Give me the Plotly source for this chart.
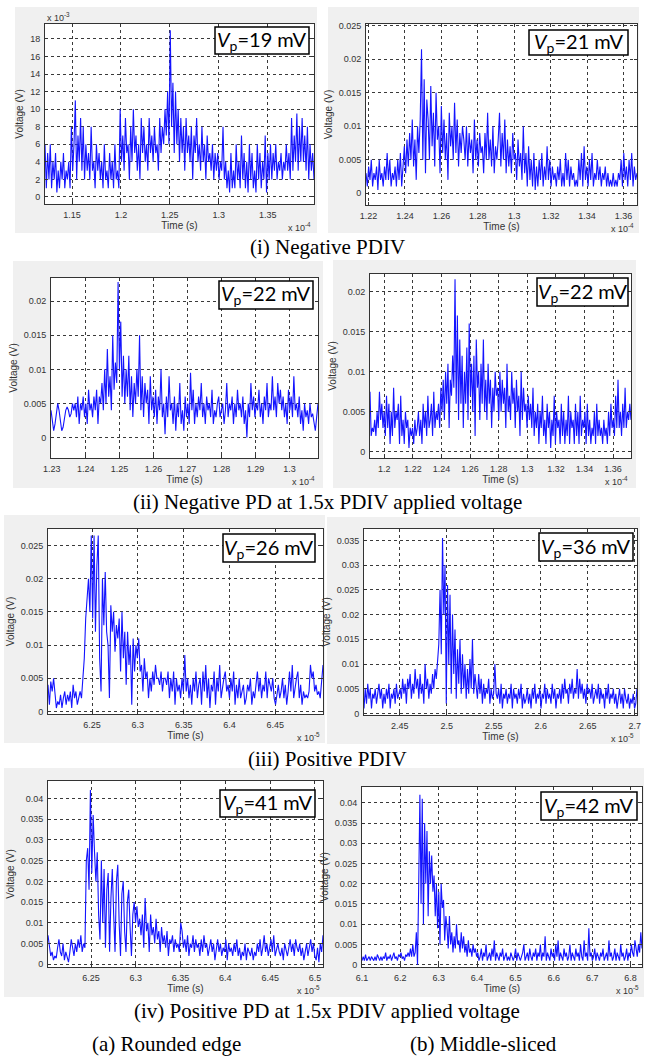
import numpy as np
import plotly.graph_objects as go

W, H = 651, 1056

# ---------------------------------------------------------------------------
# Recorded PD pulses. Voltages in mV, time windows in axis units
# (panels 1-4: s x 10^-4, panels 5-8: s x 10^-5).
# ---------------------------------------------------------------------------
t_win_1 = [1.1224, 1.3973]
v_1 = [6,1,5,2,6,1,4,2,5,0.5,3,1,4,2,5,1,3,2,4,1,
       8,3,6,11,2,7,4,9,3,8,2,
       6,3,5,2,8,3,4,1,6,3,5,2,4,1,6,2,3,1,5,2,4,1,6,2,3,1,
       10,4,7,3,9,5,6,2,8,4,10,5,7,3,6,2,9,5,8,4,6,3,9,5,7,4,8,5,6,3,9,5,8,6,10,7,
       12,6,19,8,13,5,
       12,6,10,4,9,5,8,3,9,5,7,4,8,2,7,5,9,4,6,3,8,4,6,2,7,4,5,3,6,2,5,3,5,2,4,3,
       8,2,4,1,3,0.5,5,1,3,1,6,2,4,1,7,2,5,1,4,0.5,6,2,5,1,3,0.5,6,2,5,1,4,2,7,0.5,5,2,
       6,2,5,3,6,2,4,3,5,2,4,3,6,3,5,2,9,3,7,4,9.5,3,8,4,9,4,7,3,8,2,6,3,5,2]

t_win_2 = [1.2186, 1.3674]
v_2 = [3,1,4,2,5,1,3,2,4,0.5,5,2,3,1,4,2,6,2,5,1,3,2,4,1,5,2,6,1,4,
       7,3,8,4,9,5,11,4,8,2,10,6,11,
       21.5,5,17,3,14,
       11,5,16,7,12,4,15,8,10,3,13,6,11,5,9,2,12,7,10,5,13.5,6,11,4,9,6,10,
       8,5,10,4,9,6,8,3,11,5,8,4,9,6,7,3,9,5,12,5,8,4,10,3,7,5,8,
       12,4,9,5,11,3,8,4,7,3,9,5,6,2,8,4,6,2,10,3,6,1,7,2,5,1,6,
       0.5,4,1,5,2,6,1,4,2,7,2,5,1,4,2,3,1,4,2,5,1,3,1,6,2,5,1,4,2,3,1,2,1,5,2,6,1,7,2,4,
       1,5,2,6,1,3,2,5,2,4,1,3,2,4,1,3,1,2,1,3,1,2,1,3,2,5,1,6,2,4,1,5,2,6,1,4,2,3]

t_win_3 = [1.2298, 1.3084]
v_3 = [4,2,1,2,4,5,4,2,1,1.5,3,4,4.5,4,3,3.5,5,4,
       5,3,6,2,5,4,6,3,5,2,7,4,5,3,6,4,7,2,6,5,
       8,4,10,5,13,6,9,4,15,7,11,8,
       22.8,10,17,6,
       12,5,10,6,12,4,9,3,8,5,10,6,15,4,9,3,8,5,7,2,9,4,6,3,
       7,2,6,4,10,3,5,0.5,6,3,9,4,5,2,6,1,5,3,8,2,4,1,6,3,5,2,
       9.5,4,7,2,5,3,6,4,8,3,5,2,6,4,5,3,7,2,4,3,5,6,3,4,5,2,4,8,3,5,4,6,2,5,3,7,4,5,3,6,
       2,4,0,5,3,8,4,6,3,5,4,7,3,5,2,6,4,8,3,5,4,9,4,6,3,8,5,7,4,6,3,5,2,7,4,6,3,9,4,5,
       3,6,2,4,1,5,3,4,2,5,3,3.5,2,1,3,5]

t_win_4 = [1.19, 1.3725]
v_4 = [7.5,2,3,2.5,4,2,5,3,7.5,4,6,3,
       5,2,7,3,6,1,5,2,8,3,5,4,6,1,7,2,4,1,5,3,4,0.5,3,2,
       3,1,4,2,3,5,2,4,1,6,3,5,2,7,3,4,6,2,7.5,3,5,4,6,3,
       8,5,9,4,10,6,11,3,9,7,12,8,
       21.5,6,17,4,
       14,6,12,3,10,6,13,4,16,7,11,5,12,2,14,8,10,4,11,6,14,5,9,4,
       11,6,9,3,8,5,10,7,8,4,10,5,9,6,8,3,11,5,7,4,10,6,8,3,9,5,7,2,10,4,8,5,6,3,7,4,
       6,3,8,2,5,3,6,1,5,3,7,2,4,1,6,3,5,0.5,4,2,7,1,5,3,
       4,1,6,2,5,1,4,2,7,1,5,3,4,1,6,2,5,1,7,2,4,3,5,1,6,2,4,1,3,2,5,1,6,2,4,2,3,1,4,2,
       3,1,5,2,6,3,4,2,7,3,9,3,5,2,6,3,8,3,5,4,6,4]

t_win_5 = [6.202, 6.502]
v_5 = [4,1,4.5,3,5,2,0.5,1.5,1,2.5,0.5,2,3,1,2.5,1.5,3,0.5,4,2,3,1,2,3,2,
       5,8,14,18,20,15,26.5,
       14,26.5,12,22,26.5,8,3,20,13,21,12,10,2,16,12,15,9,13,11,14,6,15,8,12,4,12,7,10,1,11,6,10,8,
       11,6,7,3,8,5,6,2,5,3,6,4,7,5,5,4,6,3,5,5,4,6,2,5,3,6,1,5,3,4,2,5,3,
       8.5,3,5,2,4,1,5,3,6,2,4,5,1,6,3,7,2,5,0.5,4,3,6,1,5,3,7,2,4,5,6,3,4,2,5,3,6,1,4,2,5,
       2,3,4,1,2,4,3,5,1,3,2,4,6,3,5,2,4,3,6,2,5,4,3,5,2,1,3,4,2,3,5,2,4,1,3,6,3,7,2,4,
       5,6,2,4,1,3,2,2.5,2,3,7,5,6,3,4,2.5,3,2,5,7]

t_win_6 = [2.412, 2.7025]
v_6 = [1,5,2,6,3,5,1,4,3,5,2,4,6,3,5,1,4,2,5,3,6,1,4,3,5,2,6,3,4,
       5,3,7,4,6,2,7,5,8,3,6,4,9,5,7,3,8,4,6,2,10,5,7,3,6,4,8,5,9,7,
       10,14,25,12,35.5,20,30,2,
       26,10,24,4,20,8,17,3,13,6,15,4,12,5,10,3,9,4,11,5,15,4,8,
       6,3,8,4,7,2,6,3,5,4,7,2,5,3,4,
       10,4,3,5,2,6,1,4,3,5,2,4,3,6,1,5,3,4,2,5,3,6,1,4,2,3,5,2,4,1,5,3,6,2,4,3,5,1,4,3,
       6,2,5,3,4,2,6,3,5,1,4,3,5,2,6,3,7,4,5,2,6,4,7,3,5,4,9,3,7,4,6,3,5,2,6,4,5,3,6,2,
       4,5,3,6,2,5,3,4,1,5,3,6,2,4,3,5,2,4,1,3,5,2,4,1,5,3,2,4,1,3,2,4,1,2,5]

t_win_7 = [6.202, 6.509]
v_7 = [7,5,2,3,1,2,1.5,4,6,3,2,5,1,3,2,0.5,3,6,4,2,5,3,6,4,7,3,5,4,
       25,28,18,42,22,36,27,
       20,27,12,6,25,10,23,4,18,22,3,16,23,12,3,20,24,10,2,17,20,8,3,15,18,9,2,12,15,10,
       14,9,11,7,12,4,16,8,10,3,12,7,9,5,11,6,8,3,9,5,7,4,8,2,6,5,7,3,6,4,5,3,10,
       8,4,6,3,7,2,5,4,7,3,6,4,5,2,6,3,7,4,5,2,4,6,3,5,1,4,6,3,5,2,4,3,6,1,5,3,4,2,5,3,
       6,2,4,1,3,2,5,1,4,3,2,4,1,3,2,5,3,6,2,4,7,3,5,2,4,6,3,7,2,4,5,3,2,4,1,5,3,2,4,6,
       3,5,2,6,4,3,5,2,4,1,3,5,2,4,6,3,5,2,1,4,0.5,5,3,7]

t_win_8 = [6.1, 6.83]
v_8 = [1,2,1,2.5,1,1.5,2,1,2,1.5,1,2,1,2.5,1.5,1,2,1,2,1.5,3,1,2,1.5,2.5,1,2,3,1.5,2,
       1,2.5,2,3,1.5,2,1,2.5,2,3,2,4,2,5,2,3,
       8,0,20,
       42,15,41,10,35,20,33,12,28,20,
       27,18,22,12,20,9,18,5,20,14,16,6,12,
       9,4,12,5,8,3,7,4,10,5,6,3,8,4,7,3,5,2,6,3,4,2,5,3,4,2,
       3,1,2,4,1,3,2,5,1,2,3,1,4,2,6,1,3,2,1,3,2,4,1,2,3,1,2,1,3,2,1,2,4,1,3,2,1,2,3,5,
       1,2,3,1,4,2,1,3,2,4,1,3,2,5,1,3,2,7,1,3,2,1,4,2,3,1,5,2,6,1,3,2,1,4,2,3,1,2,5,1,
       3,2,1,4,2,3,1,5,2,1,6,2,3,1,9,2,3,1,2,4,1,3,2,1,3,2,4,1,2,3,1,6,2,3,1,2,4,1,3,2,
       1,5,2,3,1,2,4,1,3,2,5,3,2,6,4,2,5,3,8,4]

# Peak voltages shown in the boxes (mV)
vp = [19, 21, 22, 22, 26, 36, 41, 42]

# Tick values / labels
xt_1 = [1.15, 1.2, 1.25, 1.3, 1.35]
xl_1 = ["1.15", "1.2", "1.25", "1.3", "1.35"]
yt_1 = [0, 2, 4, 6, 8, 10, 12, 14, 16, 18]
yl_1 = ["0", "2", "4", "6", "8", "10", "12", "14", "16", "18"]
xt_2 = [1.22, 1.24, 1.26, 1.28, 1.30, 1.32, 1.34, 1.36]
xl_2 = ["1.22", "1.24", "1.26", "1.28", "1.3", "1.32", "1.34", "1.36"]
xt_3 = [1.23, 1.24, 1.25, 1.26, 1.27, 1.28, 1.29, 1.30]
xl_3 = ["1.23", "1.24", "1.25", "1.26", "1.27", "1.28", "1.29", "1.3"]
xt_4 = [1.20, 1.22, 1.24, 1.26, 1.28, 1.30, 1.32, 1.34, 1.36]
xl_4 = ["1.2", "1.22", "1.24", "1.26", "1.28", "1.3", "1.32", "1.34", "1.36"]
xt_5 = [6.25, 6.30, 6.35, 6.40, 6.45]
xl_5 = ["6.25", "6.3", "6.35", "6.4", "6.45"]
xt_6 = [2.45, 2.50, 2.55, 2.60, 2.65, 2.70]
xl_6 = ["2.45", "2.5", "2.55", "2.6", "2.65", "2.7"]
xt_7 = [6.25, 6.30, 6.35, 6.40, 6.45, 6.50]
xl_7 = ["6.25", "6.3", "6.35", "6.4", "6.45", "6.5"]
xt_8 = [6.1, 6.2, 6.3, 6.4, 6.5, 6.6, 6.7, 6.8]
xl_8 = ["6.1", "6.2", "6.3", "6.4", "6.5", "6.6", "6.7", "6.8"]
yv_ticks = [0, 0.005, 0.01, 0.015, 0.02, 0.025, 0.03, 0.035, 0.04]
yv_labels = ["0", "0.005", "0.01", "0.015", "0.02", "0.025", "0.03", "0.035", "0.04"]

captions = ["(i) Negative PDIV",
            "(ii) Negative PD at 1.5x PDIV applied voltage",
            "(iii) Positive PDIV",
            "(iv) Positive PD at 1.5x PDIV applied voltage"]
columns = ["(a) Rounded edge", "(b) Middle-sliced"]

# ---------------------------------------------------------------------------
# Layout of each panel (pixel boxes) and axis settings
# ---------------------------------------------------------------------------
panels = [
    dict(t=t_win_1, v=v_1, scale=1.0, box=(45, 24, 314, 204), yr=(-0.8, 19.7),
         xt=xt_1, xl=xl_1, yt=yt_1, yl=yl_1, exp_x="-4", exp_y="-3",
         bg=(15, 7, 317, 233), vbox=(215, 27, 309, 54)),
    dict(t=t_win_2, v=v_2, scale=1e-3, box=(366, 24, 637, 205), yr=(-0.00175, 0.02525),
         xt=xt_2, xl=xl_2, yt=yv_ticks[:6], yl=yv_labels[:6], exp_x="-4",
         bg=(328, 7, 639, 233), vbox=(529, 30, 628, 55)),
    dict(t=t_win_3, v=v_3, scale=1e-3, box=(51, 278, 318, 458), yr=(-0.003, 0.0234),
         xt=xt_3, xl=xl_3, yt=yv_ticks[:5], yl=yv_labels[:5], exp_x="-4",
         bg=(13, 261, 323, 488), vbox=(219, 281, 313, 309)),
    dict(t=t_win_4, v=v_4, scale=1e-3, box=(370, 274, 631, 458), yr=(-0.00075, 0.02217),
         xt=xt_4, xl=xl_4, yt=yv_ticks[:5], yl=yv_labels[:5], exp_x="-4",
         bg=(333, 260, 636, 488), vbox=(537, 278, 628, 306)),
    dict(t=t_win_5, v=v_5, scale=1e-3, box=(48, 529, 323, 714), yr=(-0.0004, 0.0275),
         xt=xt_5, xl=xl_5, yt=yv_ticks[:6], yl=yv_labels[:6], exp_x="-5",
         bg=(4, 515, 325, 743), vbox=(223, 534, 315, 562)),
    dict(t=t_win_6, v=v_6, scale=1e-3, box=(364, 529, 637, 715), yr=(-0.0003, 0.0373),
         xt=xt_6, xl=xl_6, yt=yv_ticks[:8], yl=yv_labels[:8], exp_x="-5",
         bg=(327, 517, 640, 744), vbox=(539, 533, 633, 561)),
    dict(t=t_win_7, v=v_7, scale=1e-3, box=(48, 781, 323, 967), yr=(-0.00065, 0.0442),
         xt=xt_7, xl=xl_7, yt=yv_ticks[:9], yl=yv_labels[:9], exp_x="-5",
         bg=(4, 768, 325, 997), vbox=(220, 790, 315, 817)),
    dict(t=t_win_8, v=v_8, scale=1e-3, box=(362, 787, 642, 967), yr=(-0.00057, 0.0439),
         xt=xt_8, xl=xl_8, yt=yv_ticks[:9], yl=yv_labels[:9], exp_x="-5",
         bg=(325, 768, 644, 997), vbox=(541, 792, 637, 820)),
]

caption_y = [247, 502, 759, 1011]
column_x = [166, 483]
column_y = 1044


def px(x):
    return x / W


def py(y):
    return 1 - y / H


LINE = "rgb(20,20,255)"
AX_FONT = dict(family="Liberation Sans, Arial, sans-serif", size=9, color="#333333")
fig = go.Figure()
layout = {}
shapes = []
annotations = []

# gray figure backgrounds behind each panel, then white plot areas
for p in panels:
    x0, y0, x1, y1 = p["bg"]
    shapes.append(dict(type="rect", xref="paper", yref="paper", x0=px(x0), x1=px(x1),
                       y0=py(y1), y1=py(y0), fillcolor="#f0f0f0", line=dict(width=0),
                       layer="below"))
for p in panels:
    x0, y0, x1, y1 = p["box"]
    shapes.append(dict(type="rect", xref="paper", yref="paper", x0=px(x0), x1=px(x1),
                       y0=py(y1), y1=py(y0), fillcolor="white", line=dict(width=0),
                       layer="below"))

for i, p in enumerate(panels, start=1):
    sfx = "" if i == 1 else str(i)
    x0, y0, x1, y1 = p["box"]
    t = np.linspace(p["t"][0], p["t"][1], len(p["v"]))
    v = np.array(p["v"], dtype=float) * p["scale"]
    fig.add_trace(go.Scatter(x=t, y=v, mode="lines", line=dict(color=LINE, width=1.1),
                             xaxis="x" + sfx, yaxis="y" + sfx, showlegend=False,
                             hoverinfo="skip"))
    common = dict(showline=True, linecolor="#333333", linewidth=1, mirror="ticks",
                  ticks="inside", ticklen=3, tickcolor="#333333", showgrid=True,
                  gridcolor="#3a3a3a", griddash="dot", gridwidth=1, zeroline=False,
                  automargin=False, tickfont=AX_FONT)
    layout["xaxis" + sfx] = dict(
        common, domain=[px(x0), px(x1)], anchor="y" + sfx, range=[p["t"][0], p["t"][1]],
        tickmode="array", tickvals=p["xt"], ticktext=p["xl"], ticklabelstandoff=2,
        title=dict(text="Time (s)", font=dict(AX_FONT, size=10), standoff=3))
    layout["yaxis" + sfx] = dict(
        common, domain=[py(y1), py(y0)], anchor="x" + sfx, range=list(p["yr"]),
        tickmode="array", tickvals=p["yt"], ticktext=p["yl"], ticklabelstandoff=2,
        title=dict(text="Voltage (V)", font=dict(AX_FONT, size=10), standoff=4))

    # exponent labels
    annotations.append(dict(xref="paper", yref="paper", x=px(x1 - 1), y=py(y1 + 23),
                            xanchor="right", yanchor="middle", showarrow=False,
                            text="x 10<sup>" + p["exp_x"] + "</sup>", font=AX_FONT))
    if p.get("exp_y"):
        annotations.append(dict(xref="paper", yref="paper", x=px(x0), y=py(y0 - 7),
                                xanchor="left", yanchor="middle", showarrow=False,
                                text="x 10<sup>" + p["exp_y"] + "</sup>", font=AX_FONT))

    # peak-voltage box
    bx0, by0, bx1, by1 = p["vbox"]
    shapes.append(dict(type="rect", xref="paper", yref="paper", x0=px(bx0), x1=px(bx1),
                       y0=py(by1), y1=py(by0), fillcolor="white",
                       line=dict(color="black", width=1.5), layer="above"))
    annotations.append(dict(xref="paper", yref="paper", x=px((bx0 + bx1) / 2),
                            y=py((by0 + by1) / 2), xanchor="center", yanchor="middle",
                            showarrow=False,
                            text="<i>V</i><sub>p</sub>=%d mV" % vp[i - 1],
                            font=dict(family="Lato, Open Sans, sans-serif", size=20,
                                      color="black")))

CAP_FONT = dict(family="Liberation Serif, Times New Roman, serif", size=21, color="black")
for txt, yc in zip(captions, caption_y):
    annotations.append(dict(xref="paper", yref="paper", x=px(327), y=py(yc),
                            xanchor="center", yanchor="middle", showarrow=False, text=txt,
                            font=CAP_FONT))
for txt, xc in zip(columns, column_x):
    annotations.append(dict(xref="paper", yref="paper", x=px(xc), y=py(column_y),
                            xanchor="center", yanchor="middle", showarrow=False, text=txt,
                            font=CAP_FONT))

fig.update_layout(width=W, height=H, margin=dict(l=0, r=0, t=0, b=0),
                  paper_bgcolor="white", plot_bgcolor="white", shapes=shapes,
                  annotations=annotations, **layout)
fig.write_html("out.html")
